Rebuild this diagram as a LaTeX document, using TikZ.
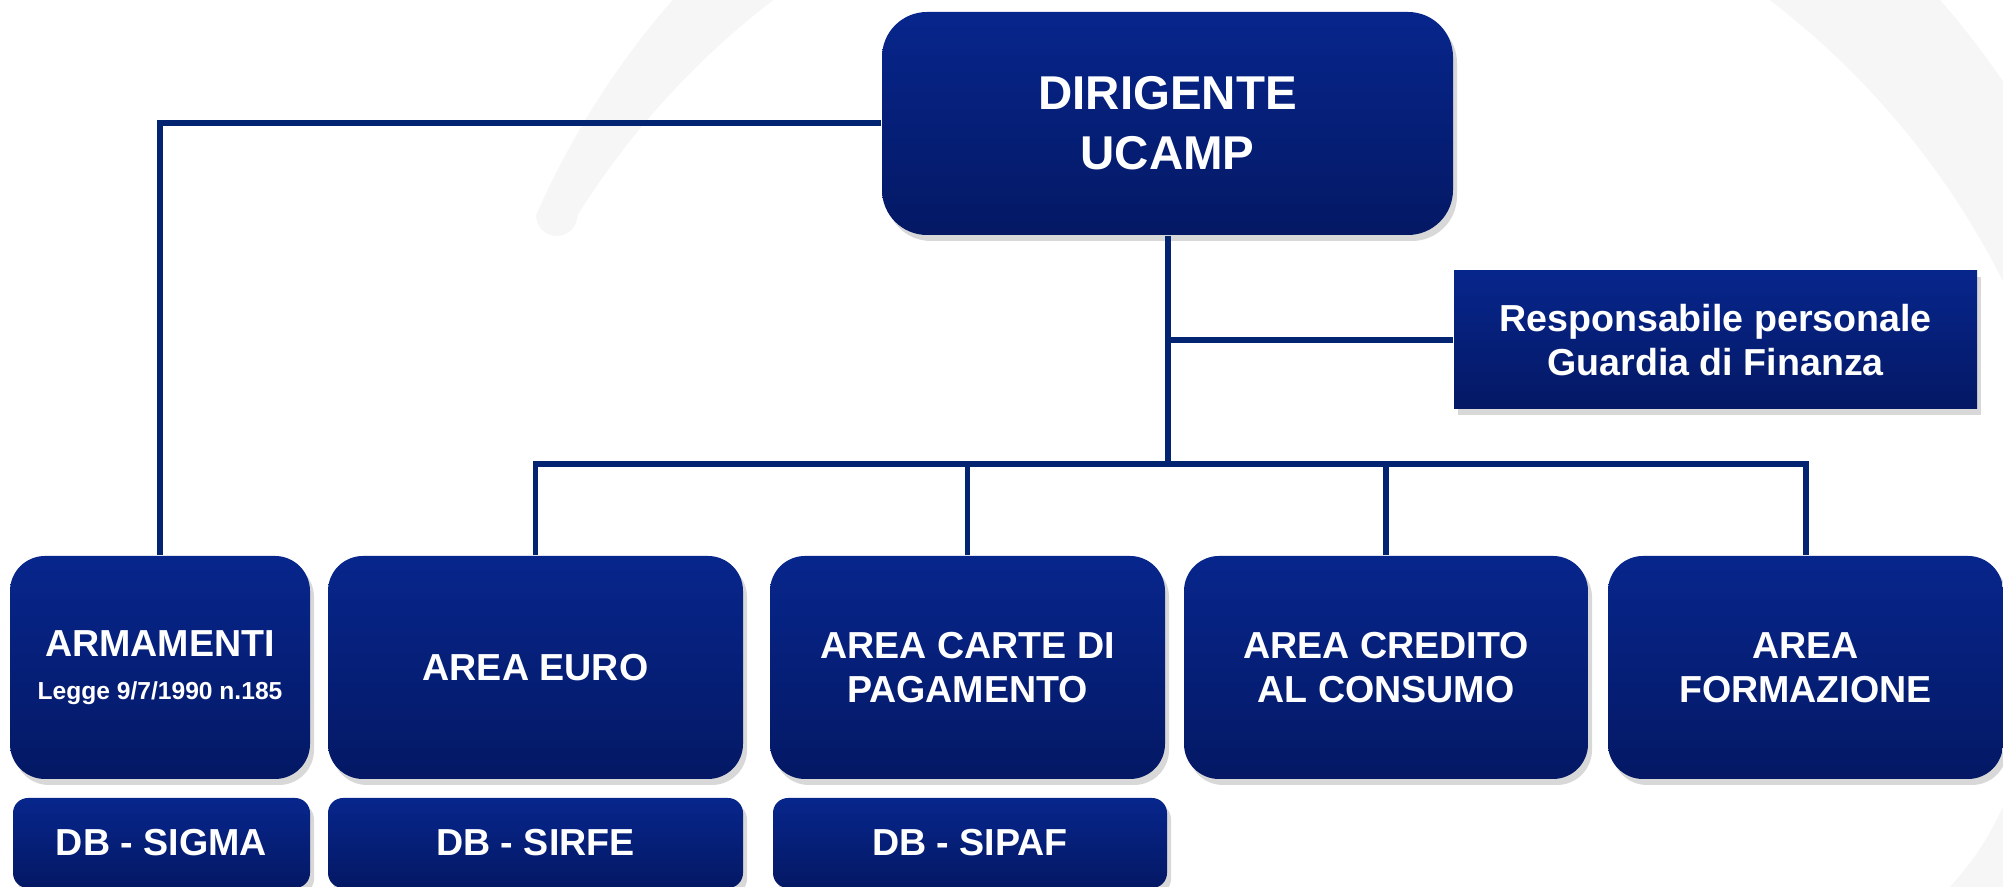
\documentclass[tikz,border=0pt]{standalone}
\usepackage{fontspec}
\setmainfont{Liberation Sans}
\usetikzlibrary{shadows}
\definecolor{ucblue}{RGB}{7,38,140}
\definecolor{ucdark}{RGB}{4,24,100}
\definecolor{ucline}{RGB}{3,36,112}
\definecolor{swoosh}{RGB}{246,246,246}

\begin{document}
\begin{tikzpicture}[
    box/.style={rounded corners=0.35cm, top color=ucblue, bottom color=ucdark, text=white,
        font=\bfseries\fontsize{10.7}{12.4}\selectfont, align=center, inner sep=0pt,
        drop shadow={opacity=0.3, shadow xshift=0.4mm, shadow yshift=-0.6mm}},
    dbbox/.style={box, rounded corners=0.15cm, minimum height=0.90cm},
    link/.style={draw=ucline, line width=1.7pt}]
    \useasboundingbox (0,0) rectangle (20.03,8.87);
    \fill[white] (0,0) rectangle (20.03,8.87);
    % faint swoosh in the background
    \fill[swoosh] ([shift={(156.25:8.416)}]13.065,3.33) arc[start angle=156.25, end angle=10, radius=8.416]
        -- ([shift={(10:8.19)}]12.715,2.37) arc[start angle=10, end angle=147.94, radius=8.19]
        arc[start angle=0, end angle=-180, radius=0.2065] -- cycle;
    \fill[swoosh] (20.03,0.80) to[bend left=8] (19.50,0) -- (20.03,0) -- cycle;

    \node (dir) at (11.675,7.635) [box, minimum width=5.71cm, minimum height=2.23cm, rounded corners=0.45cm,
        font=\bfseries\fontsize{13.5}{17}\selectfont] {DIRIGENTE\\UCAMP};
    \node (resp) at (17.155,5.47) [box, sharp corners, minimum width=5.23cm, minimum height=1.38cm]
        {Responsabile personale\\Guardia di Finanza};

    \node (arm) at (1.60,2.195) [box, minimum width=3.00cm, minimum height=2.23cm]
        {ARMAMENTI\\{\fontsize{7}{9}\selectfont Legge 9/7/1990 n.185}};
    \node (euro) at (5.355,2.195) [box, minimum width=4.15cm, minimum height=2.23cm] {AREA EURO};
    \node (carte) at (9.675,2.195) [box, minimum width=3.95cm, minimum height=2.23cm] {AREA CARTE DI\\PAGAMENTO};
    \node (cred) at (13.86,2.195) [box, minimum width=4.04cm, minimum height=2.23cm] {AREA CREDITO\\AL CONSUMO};
    \node (form) at (18.055,2.195) [box, minimum width=3.95cm, minimum height=2.23cm] {AREA\\FORMAZIONE};

    \node (sigma) at (1.615,0.44) [dbbox, minimum width=2.97cm] {DB - SIGMA};
    \node (sirfe) at (5.355,0.44) [dbbox, minimum width=4.15cm] {DB - SIRFE};
    \node (sipaf) at (9.70,0.44) [dbbox, minimum width=3.94cm] {DB - SIPAF};

    % connectors
    \coordinate (bus) at (11.675,4.23);
    \draw[link] (dir.west) -| (arm.north);
    \draw[link] (dir.south) -- (bus);
    \draw[link] (resp.west) -- (resp.west -| bus);
    \draw[link] (euro.north) |- (bus) -| (form.north);
    \draw[link] (carte.north) -- (carte.north |- bus);
    \draw[link] (cred.north) -- (cred.north |- bus);
\end{tikzpicture}
\end{document}
